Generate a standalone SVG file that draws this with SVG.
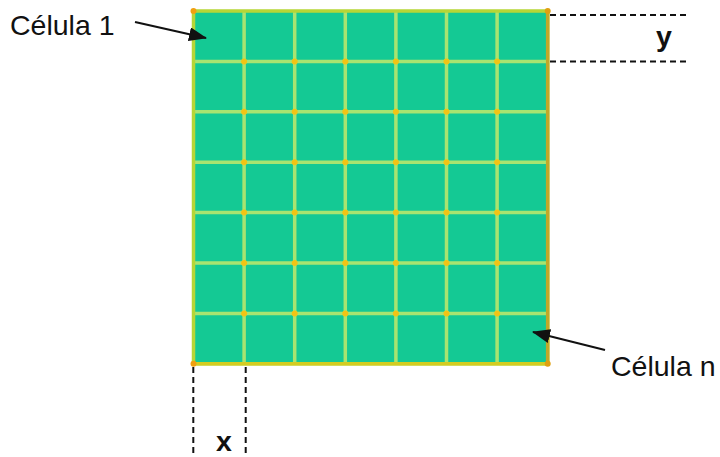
<svg xmlns="http://www.w3.org/2000/svg" width="720" height="457" viewBox="0 0 720 457">
  <style>
    .lbl { font-family: "Liberation Sans", Arial, sans-serif; font-size: 28.5px; fill: #111; }
    .bold { font-weight: bold; }
    .gl { stroke: #a8e470; stroke-width: 3.5; fill: none; }
    .dash { stroke: #111; stroke-width: 2; stroke-dasharray: 6 4; fill: none; }
    .arr { stroke: #111; stroke-width: 2; fill: none; marker-end: url(#ah); }
    .dot { fill: #f2c414; }
  </style>
  <defs>
    <marker id="ah" viewBox="0 0 18 14" refX="17" refY="7" markerWidth="18" markerHeight="14" markerUnits="userSpaceOnUse" orient="auto">
      <path d="M0,0 L18,7 L0,14 z" fill="#111"/>
    </marker>
  </defs>

  <g id="grid">
    <rect x="193.5" y="11" width="354.2" height="352.8" fill="#14c994"/>
    <g class="gl">
      <path d="M244.1,11 V363.8 M294.7,11 V363.8 M345.3,11 V363.8 M395.9,11 V363.8 M446.5,11 V363.8 M497.1,11 V363.8"/>
      <path d="M193.5,61.4 H547.7 M193.5,111.8 H547.7 M193.5,162.2 H547.7 M193.5,212.6 H547.7 M193.5,263 H547.7 M193.5,313.4 H547.7"/>
    </g>
    <rect x="193.5" y="11" width="354.2" height="352.8" fill="none" stroke="#b6d636" stroke-width="3.5"/>
    <path d="M547.7,11 V363.8" stroke="#c2a828" stroke-width="3.5"/>
    <path d="M193.5,363.8 H547.7" stroke="#d4cc20" stroke-width="3.5"/>
    <g class="dot">
      <circle cx="244.1" cy="61.4" r="3"/><circle cx="294.7" cy="61.4" r="3"/><circle cx="345.3" cy="61.4" r="3"/><circle cx="395.9" cy="61.4" r="3"/><circle cx="446.5" cy="61.4" r="3"/><circle cx="497.1" cy="61.4" r="3"/>
      <circle cx="244.1" cy="111.8" r="3"/><circle cx="294.7" cy="111.8" r="3"/><circle cx="345.3" cy="111.8" r="3"/><circle cx="395.9" cy="111.8" r="3"/><circle cx="446.5" cy="111.8" r="3"/><circle cx="497.1" cy="111.8" r="3"/>
      <circle cx="244.1" cy="162.2" r="3"/><circle cx="294.7" cy="162.2" r="3"/><circle cx="345.3" cy="162.2" r="3"/><circle cx="395.9" cy="162.2" r="3"/><circle cx="446.5" cy="162.2" r="3"/><circle cx="497.1" cy="162.2" r="3"/>
      <circle cx="244.1" cy="212.6" r="3"/><circle cx="294.7" cy="212.6" r="3"/><circle cx="345.3" cy="212.6" r="3"/><circle cx="395.9" cy="212.6" r="3"/><circle cx="446.5" cy="212.6" r="3"/><circle cx="497.1" cy="212.6" r="3"/>
      <circle cx="244.1" cy="263" r="3"/><circle cx="294.7" cy="263" r="3"/><circle cx="345.3" cy="263" r="3"/><circle cx="395.9" cy="263" r="3"/><circle cx="446.5" cy="263" r="3"/><circle cx="497.1" cy="263" r="3"/>
      <circle cx="244.1" cy="313.4" r="3"/><circle cx="294.7" cy="313.4" r="3"/><circle cx="345.3" cy="313.4" r="3"/><circle cx="395.9" cy="313.4" r="3"/><circle cx="446.5" cy="313.4" r="3"/><circle cx="497.1" cy="313.4" r="3"/>
      <circle cx="193.5" cy="11" r="3" fill="#f0a010"/><circle cx="547.7" cy="11" r="3" fill="#e0a010"/>
      <circle cx="193.5" cy="363.8" r="3" fill="#f0a010"/><circle cx="547.7" cy="363.8" r="3" fill="#e0a010"/>
    </g>
  </g>

  <g id="label-celula-1">
    <text class="lbl" x="10" y="35">Célula 1</text>
  </g>
  <g id="label-celula-n">
    <text class="lbl" x="611" y="376">Célula n</text>
  </g>
  <g id="label-y">
    <text class="lbl bold" x="656" y="45.5">y</text>
  </g>
  <g id="label-x">
    <text class="lbl bold" x="216" y="451">x</text>
  </g>

  <g id="connectors">
    <path class="arr" d="M135,22 L206,38"/>
    <path class="arr" d="M605,350 L533,332"/>
    <path class="dash" d="M550,15 H690"/>
    <path class="dash" d="M550,61.5 H690"/>
    <path class="dash" d="M193.3,367 V457"/>
    <path class="dash" d="M245.7,367 V457"/>
  </g>
</svg>
